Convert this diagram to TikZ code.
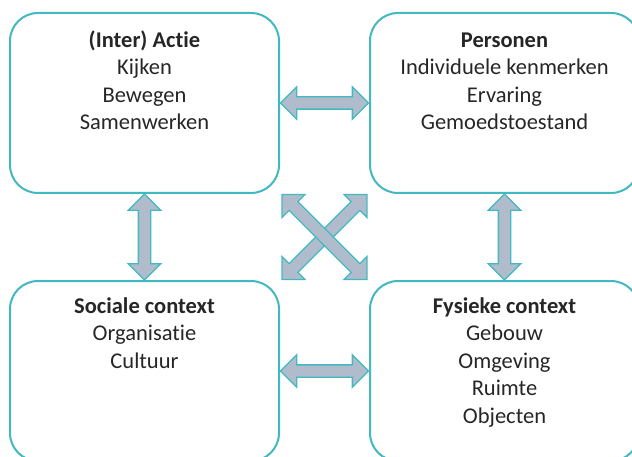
\documentclass[tikz,border=0pt]{standalone}
\usepackage{fontspec}
\setmainfont{Carlito}[Ligatures=CommonOff]
\usetikzlibrary{shapes.arrows,calc}
\definecolor{boxteal}{RGB}{66,184,192}
\definecolor{arrfill}{RGB}{176,188,204}
\definecolor{txt}{RGB}{38,38,38}
\begin{document}
\begin{tikzpicture}[x=1pt,y=-1pt,
  box/.style={draw=boxteal, line width=2pt, rounded corners=28pt,
    minimum width=269pt, minimum height=180pt, inner sep=0pt},
  lbl/.style={align=center, font=\fontsize{22.5}{27.5}\selectfont, text=txt,
    anchor=north, inner sep=0pt},
  blockarrow/.style={double arrow, draw=boxteal, fill=arrfill, line width=1.3pt,
    inner sep=0pt, inner ysep=5.5pt, double arrow head extend=10pt,
    double arrow tip angle=90}]
\useasboundingbox (0,0) rectangle (632,457);
% boxes
\node[box] (tl) at (144.5,103) {};
\node[box] (tr) at (504.5,103) {};
\node[box] (bl) at (144.5,371) {};
\node[box] (br) at (504.5,371) {};
% texts
\node[lbl] (tlt) at (144.5,29) {\rule{0pt}{18pt}\textbf{(Inter) Actie}\\Kijken\\Bewegen\\Samenwerken};
\node[lbl] (trt) at (504.5,29) {\rule{0pt}{18pt}\textbf{Personen}\\Individuele kenmerken\\Ervaring\\Gemoedstoestand};
\node[lbl] (blt) at (144.5,295) {\rule{0pt}{18pt}\textbf{Sociale context}\\Organisatie\\Cultuur};
\node[lbl] (brt) at (504.5,295) {\rule{0pt}{18pt}\textbf{Fysieke context}\\Gebouw\\Omgeving\\Ruimte\\Objecten};
% arrows
\node[blockarrow, minimum height=88pt] (atop) at ($(tl.east)!0.5!(tr.west)$) {};
\node[blockarrow, minimum height=88pt] (abot) at ($(bl.east)!0.5!(br.west)$) {};
\node[blockarrow, minimum height=86pt, rotate=90] (aleft) at ($(tl.south)!0.5!(bl.north)$) {};
\node[blockarrow, minimum height=86pt, rotate=90] (aright) at ($(tr.south)!0.5!(br.north)$) {};
\coordinate (mid) at ($(tl.south east)!0.5!(br.north west)$);
\node[blockarrow, minimum height=120pt, rotate=45] (adiag1) at (mid) {};
\node[blockarrow, minimum height=120pt, rotate=-45] (adiag2) at (mid) {};
\end{tikzpicture}
\end{document}
